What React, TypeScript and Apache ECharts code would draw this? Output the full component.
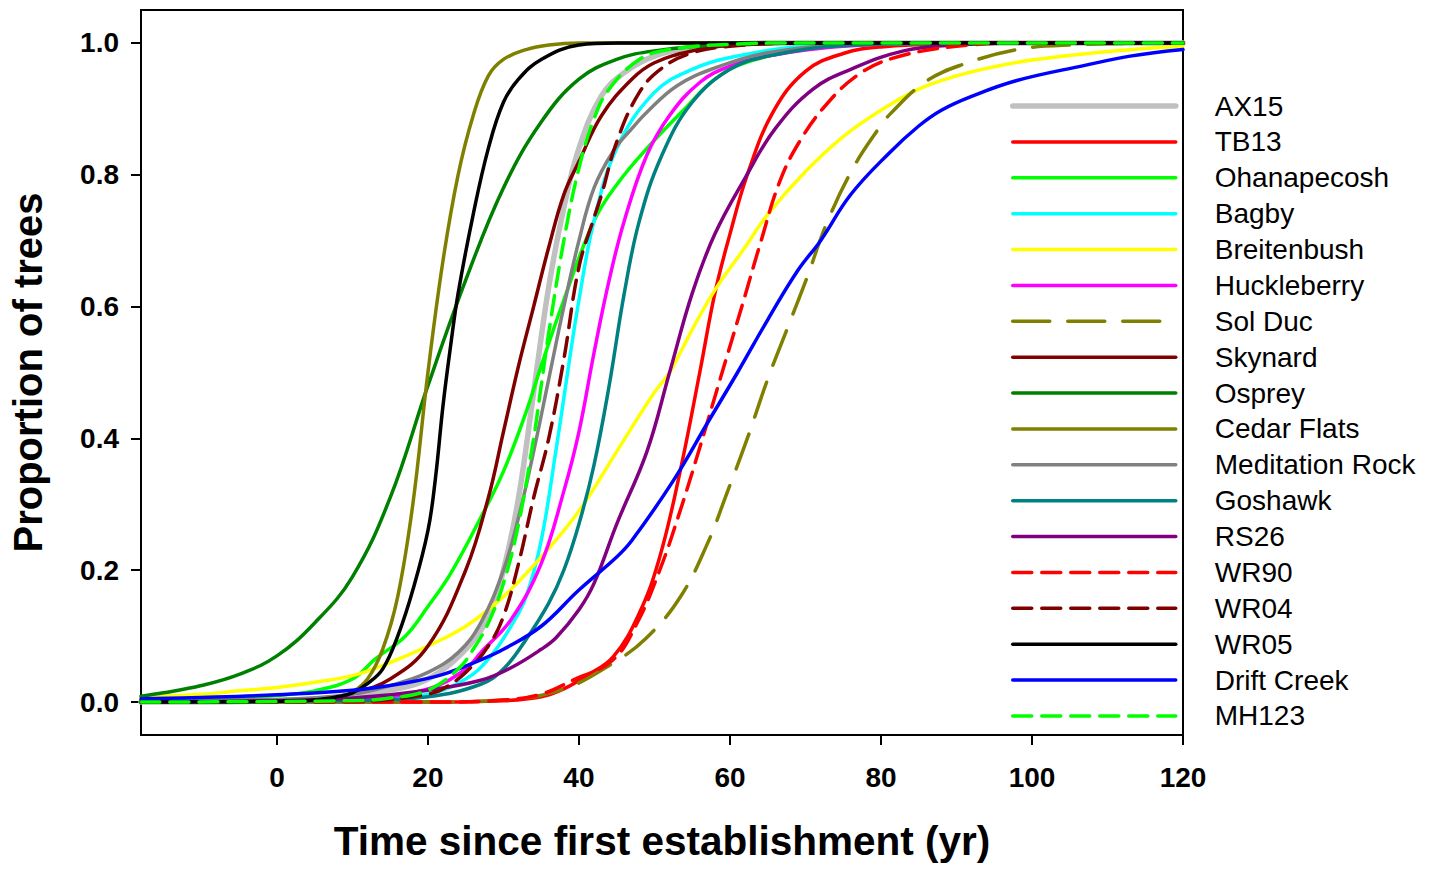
import React, { useEffect, useRef } from "react";
import * as echarts from "echarts";

// ---- Data ----
const X_TICKS = [0, 20, 40, 60, 80, 100, 120];
const Y_TICKS = [0, 0.2, 0.4, 0.6, 0.8, 1.0];

const AX15 = [[-18, 0], [0, 0.002], [10, 0.008], [15, 0.018], [20, 0.035], [25, 0.08], [28, 0.13], [30, 0.2], [32, 0.31], [34, 0.47], [36, 0.63], [38, 0.75], [40, 0.84], [43, 0.92], [46, 0.955], [50, 0.98], [55, 0.992], [65, 1], [120, 1]];
const TB13 = [[-18, 0], [20, 0], [30, 0.002], [35, 0.008], [38, 0.02], [41, 0.04], [44.5, 0.068], [48, 0.135], [50.7, 0.22], [53.4, 0.35], [56, 0.5], [58, 0.62], [60, 0.71], [62.3, 0.8], [65.7, 0.895], [70, 0.957], [75, 0.984], [80, 0.994], [90, 0.999], [100, 1], [120, 1]];
const OHANAPECOSH = [[-18, 0.003], [-10, 0.005], [0, 0.01], [5, 0.017], [10, 0.035], [13, 0.065], [17, 0.1], [20, 0.145], [23, 0.195], [27, 0.28], [30, 0.35], [33, 0.44], [35, 0.51], [38, 0.61], [42, 0.73], [45, 0.785], [49, 0.84], [54, 0.9], [58, 0.945], [62, 0.97], [70, 0.99], [80, 0.998], [95, 1], [120, 1]];
const BAGBY = [[-18, 0], [10, 0.003], [20, 0.012], [25, 0.035], [28, 0.065], [31, 0.115], [33, 0.16], [35, 0.245], [37, 0.385], [38.5, 0.5], [40, 0.61], [42, 0.73], [45, 0.84], [50, 0.925], [55, 0.96], [60, 0.978], [70, 0.995], [85, 1], [120, 1]];
const BREITENBUSH = [[-18, 0.008], [-10, 0.012], [-5, 0.017], [0, 0.022], [5, 0.03], [10, 0.04], [15, 0.06], [20, 0.085], [25, 0.115], [30, 0.16], [35, 0.22], [40, 0.29], [45, 0.38], [50, 0.47], [52, 0.5], [55, 0.565], [58, 0.625], [62, 0.69], [65, 0.74], [70, 0.805], [75, 0.858], [80, 0.898], [85, 0.93], [90, 0.95], [95, 0.964], [100, 0.974], [110, 0.987], [120, 0.995]];
const HUCKLEBERRY = [[-18, 0], [10, 0.004], [20, 0.02], [25, 0.05], [27, 0.075], [31, 0.125], [35, 0.21], [38, 0.32], [40, 0.41], [42, 0.53], [44, 0.64], [46, 0.73], [49, 0.83], [52, 0.89], [56, 0.94], [60, 0.965], [65, 0.98], [75, 0.995], [90, 1], [120, 1]];
const SOL_DUC = [[-18, 0], [20, 0], [30, 0.003], [38, 0.02], [44.5, 0.059], [49, 0.098], [53.4, 0.159], [57, 0.24], [59.6, 0.317], [62.3, 0.4], [65, 0.49], [67.5, 0.564], [70.2, 0.644], [72.8, 0.726], [76.3, 0.81], [79.5, 0.867], [81.2, 0.892], [86, 0.942], [91, 0.968], [98, 0.99], [105, 0.997], [120, 1]];
const SKYNARD = [[-18, 0], [0, 0.002], [5, 0.004], [10, 0.013], [15, 0.035], [20, 0.085], [25, 0.2], [28, 0.31], [30, 0.41], [32, 0.51], [34, 0.6], [36, 0.69], [38, 0.77], [40, 0.82], [43, 0.89], [47, 0.945], [50, 0.97], [55, 0.988], [60, 0.996], [70, 1], [120, 1]];
const OSPREY = [[-18, 0.009], [-15, 0.014], [-10, 0.025], [-5, 0.042], [0, 0.07], [5, 0.12], [10, 0.19], [15, 0.31], [20, 0.48], [25, 0.64], [30, 0.78], [35, 0.88], [40, 0.945], [45, 0.975], [50, 0.988], [60, 0.998], [70, 1], [120, 1]];
const CEDAR_FLATS = [[-18, 0], [0, 0], [5, 0.001], [8, 0.006], [10, 0.015], [12, 0.035], [14, 0.08], [16, 0.16], [18, 0.3], [20, 0.5], [22, 0.67], [24, 0.8], [26, 0.89], [28, 0.95], [30, 0.975], [33, 0.99], [36, 0.997], [40, 1], [120, 1]];
const MEDITATION_ROCK = [[-18, 0.002], [0, 0.004], [10, 0.012], [15, 0.025], [20, 0.045], [24, 0.075], [27, 0.12], [30, 0.2], [32, 0.28], [34, 0.38], [36, 0.49], [38, 0.6], [40, 0.7], [42, 0.78], [44.5, 0.835], [47, 0.87], [49, 0.895], [53, 0.935], [58, 0.962], [65, 0.985], [75, 0.997], [90, 1], [120, 1]];
const GOSHAWK = [[-18, 0], [10, 0.002], [20, 0.008], [27, 0.027], [30, 0.05], [33, 0.095], [36, 0.15], [38, 0.2], [40, 0.27], [42, 0.36], [44, 0.48], [46, 0.62], [48, 0.73], [51, 0.83], [55, 0.91], [60, 0.96], [65, 0.98], [75, 0.996], [90, 1], [120, 1]];
const RS26 = [[-18, 0], [0, 0.002], [10, 0.006], [20, 0.018], [27, 0.033], [31, 0.052], [35, 0.08], [37, 0.098], [40, 0.14], [42, 0.18], [45, 0.27], [49, 0.38], [52, 0.5], [55, 0.62], [58, 0.71], [62, 0.795], [66, 0.87], [71, 0.93], [76, 0.96], [83, 0.988], [90, 0.997], [100, 1], [120, 1]];
const WR90 = [[-18, 0], [20, 0], [30, 0.003], [35, 0.012], [39, 0.032], [44.5, 0.064], [47.7, 0.12], [50.7, 0.2], [53.4, 0.29], [56, 0.386], [58.7, 0.49], [61.7, 0.605], [64, 0.695], [66.6, 0.79], [69.3, 0.852], [72.8, 0.907], [77, 0.952], [81.6, 0.977], [90, 0.995], [100, 1], [120, 1]];
const WR04 = [[-18, 0], [10, 0.001], [15, 0.004], [20, 0.012], [22, 0.02], [25, 0.045], [28, 0.085], [30, 0.13], [32, 0.21], [34, 0.31], [36, 0.4], [38, 0.52], [40, 0.66], [42, 0.735], [43, 0.77], [45, 0.85], [48, 0.925], [51, 0.962], [55, 0.985], [60, 0.995], [70, 1], [120, 1]];
const WR05 = [[-18, 0], [0, 0.001], [5, 0.003], [8, 0.008], [10, 0.014], [12, 0.028], [14, 0.05], [16, 0.1], [18, 0.17], [20, 0.26], [21, 0.34], [22, 0.45], [23, 0.54], [24, 0.62], [26, 0.74], [28, 0.84], [30, 0.91], [32, 0.945], [35, 0.975], [40, 0.997], [45, 1], [120, 1]];
const DRIFT_CREEK = [[-18, 0.005], [-10, 0.007], [0, 0.011], [10, 0.018], [17, 0.029], [22, 0.042], [27, 0.064], [30, 0.08], [35, 0.115], [40, 0.17], [45, 0.22], [47, 0.245], [52.5, 0.336], [57, 0.423], [61, 0.5], [65, 0.58], [69, 0.655], [72, 0.7], [76, 0.77], [81, 0.832], [85, 0.874], [88, 0.898], [92, 0.919], [98, 0.943], [107, 0.966], [113, 0.98], [120, 0.99]];
const MH123 = [[-18, 0], [10, 0.002], [15, 0.006], [20, 0.018], [24, 0.05], [26, 0.08], [28, 0.12], [30, 0.18], [32, 0.27], [34, 0.4], [35, 0.48], [36, 0.56], [38, 0.7], [40, 0.81], [42, 0.885], [44, 0.93], [48, 0.975], [52, 0.99], [60, 0.998], [70, 1], [120, 1]];

const SITE_NAMES = ["AX15", "TB13", "Ohanapecosh", "Bagby", "Breitenbush", "Huckleberry", "Sol Duc", "Skynard", "Osprey", "Cedar Flats", "Meditation Rock", "Goshawk", "RS26", "WR90", "WR04", "WR05", "Drift Creek", "MH123"];
const SITE_DATA = [AX15, TB13, OHANAPECOSH, BAGBY, BREITENBUSH, HUCKLEBERRY, SOL_DUC, SKYNARD, OSPREY, CEDAR_FLATS, MEDITATION_ROCK, GOSHAWK, RS26, WR90, WR04, WR05, DRIFT_CREEK, MH123];

// ---- Styles ----
const COLORS = ["#c0c0c0", "#ff0000", "#00ff00", "#00ffff", "#ffff00", "#ff00ff", "#808000", "#800000", "#008000", "#808000", "#808080", "#008080", "#800080", "#ff0000", "#800000", "#000000", "#0000ff", "#00ff00"];
const SHORT_DASH = [19, 10];
const LONG_DASH = [37, 18];
const DASHES: any[] = ["solid", "solid", "solid", "solid", "solid", "solid", LONG_DASH, "solid", "solid", "solid", "solid", "solid", "solid", SHORT_DASH, SHORT_DASH, "solid", "solid", SHORT_DASH];
const WIDTHS = [5.5, 3.5, 3.5, 3.5, 3.5, 3.5, 3.5, 3.5, 3.5, 3.5, 3.5, 3.5, 3.5, 3.5, 3.5, 3.5, 3.5, 3.5];

const FONT = "'Liberation Sans', Arial, Helvetica, sans-serif";

export default function App() {
  const ref = useRef<HTMLDivElement>(null);
  useEffect(() => {
    if (!ref.current) return;
    const chart = echarts.init(ref.current, null, { renderer: "svg" });
    const series = SITE_NAMES.map((name, i) => ({
      name,
      type: "line",
      data: SITE_DATA[i],
      showSymbol: false,
      symbol: "none",
      smooth: 0.4,
      lineStyle: { color: COLORS[i], width: WIDTHS[i], type: DASHES[i], cap: "round", join: "round" },
      itemStyle: { color: COLORS[i] },
      emphasis: { disabled: true },
    }));
    chart.setOption({
      animation: false,
      backgroundColor: "#ffffff",
      textStyle: { fontFamily: FONT },
      grid: { left: 140, top: 10, right: 259, bottom: 134, show: true, borderColor: "#000", borderWidth: 2, containLabel: false },
      legend: {
        data: SITE_NAMES,
        orient: "vertical",
        left: 1010,
        top: 92,
        padding: 0,
        itemWidth: 163,
        itemHeight: 28,
        itemGap: 7.88,
        selectedMode: false,
        itemStyle: { opacity: 0, borderWidth: 0 },
        lineStyle: { width: "inherit", type: "inherit", cap: "round" },
        textStyle: { fontSize: 28, lineHeight: 28, color: "#000", fontFamily: FONT, padding: [0, 0, 0, 34] },
      },
      xAxis: {
        type: "value",
        min: -18,
        max: 120,
        name: "Time since first establishment (yr)",
        nameLocation: "middle",
        nameGap: 85,
        nameTextStyle: { fontSize: 40.5, fontWeight: "bold", color: "#000", fontFamily: FONT },
        axisLine: { show: true, onZero: false, lineStyle: { color: "#000", width: 2 } },
        axisTick: { show: true, inside: false, length: 10, customValues: X_TICKS, lineStyle: { color: "#000", width: 2 } },
        axisLabel: { customValues: X_TICKS, fontSize: 28, fontWeight: "bold", color: "#000", margin: 28, fontFamily: FONT },
        splitLine: { show: false },
      },
      yAxis: {
        type: "value",
        min: -0.05,
        max: 1.05,
        name: "Proportion of trees",
        nameLocation: "middle",
        nameGap: 93,
        nameRotate: 90,
        nameTextStyle: { fontSize: 40, fontWeight: "bold", color: "#000", fontFamily: FONT },
        axisLine: { show: true, onZero: false, lineStyle: { color: "#000", width: 2 } },
        axisTick: { show: true, inside: false, length: 10, customValues: Y_TICKS, lineStyle: { color: "#000", width: 2 } },
        axisLabel: { customValues: Y_TICKS, fontSize: 28, fontWeight: "bold", color: "#000", margin: 22, fontFamily: FONT, formatter: (v: number) => v.toFixed(1) },
        splitLine: { show: false },
      },
      series,
    });
    return () => chart.dispose();
  }, []);
  return <div ref={ref} style={{ position: "fixed", left: 0, top: 0, width: 1442, height: 869, background: "#fff" }} />;
}
